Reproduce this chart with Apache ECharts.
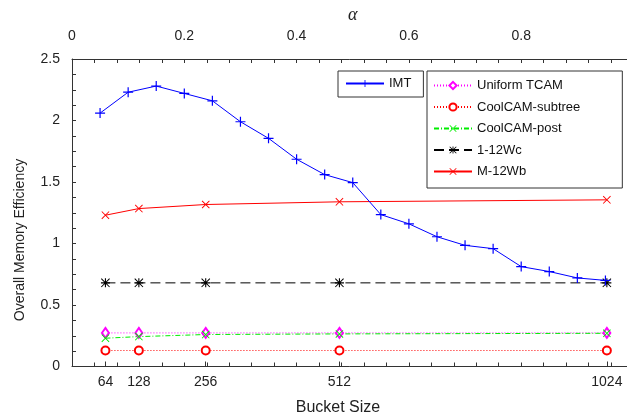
<!DOCTYPE html>
<html>
<head>
<meta charset="utf-8">
<script src="https://cdn.jsdelivr.net/npm/echarts@6/dist/echarts.min.js"></script>
<style>
html,body{margin:0;padding:0;background:#fff;}
#chart{width:627px;height:417px;}
</style>
</head>
<body>
<div id="chart"></div>
<script>
// ---- data ----
const bucketSizes = [64, 128, 256, 512, 1024];
const bucketTickLabels = [64, 128, 256, 512, 1024];
const alphaValues = [0.05, 0.10, 0.15, 0.20, 0.25, 0.30, 0.35, 0.40, 0.45, 0.50,
                     0.55, 0.60, 0.65, 0.70, 0.75, 0.80, 0.85, 0.90, 0.95];
const imtValues = [2.06, 2.23, 2.28, 2.22, 2.16, 1.99, 1.855, 1.685, 1.56, 1.495,
                   1.235, 1.16, 1.055, 0.985, 0.958, 0.812, 0.772, 0.72, 0.70];
const uniformTcam = [0.273, 0.273, 0.273, 0.273, 0.273];
const coolcamSubtree = [0.13, 0.13, 0.13, 0.13, 0.13];
const coolcamPost = [0.23, 0.243, 0.26, 0.265, 0.27];
const wc112 = [0.68, 0.68, 0.68, 0.68, 0.68];
const wbM12 = [1.23, 1.284, 1.317, 1.339, 1.355];
const seriesNames = ['IMT', 'Uniform TCAM', 'CoolCAM-subtree', 'CoolCAM-post', '1-12Wc', 'M-12Wb'];

const FONT = 'Liberation Sans, Arial, Helvetica, sans-serif';
const PLUS = 'path://M4.4,0H5.6V10H4.4Z M0,4.4H10V5.6H0Z';
const CROSS = 'path://M0.8,0L10,9.2L9.2,10L0,0.8Z M9.2,0L10,0.8L0.8,10L0,9.2Z';
const STAR = 'path://M4.4,0H5.6V10H4.4Z M0,4.4H10V5.6H0Z M0.8,0L10,9.2L9.2,10L0,0.8Z M9.2,0L10,0.8L0.8,10L0,9.2Z';

function pairs(xs, ys) { return xs.map((x, i) => [x, ys[i]]); }

const chart = echarts.init(document.getElementById('chart'), null, {renderer: 'canvas'});
const axisColor = '#333';
chart.setOption({
  animation: false,
  backgroundColor: '#fff',
  textStyle: {fontFamily: FONT},
  grid: {left: 72, top: 59, width: 561.5, height: 307.5, containLabel: false, outerBoundsMode: 'none'},
  xAxis: [
    { // bucket size (bottom)
      type: 'value', position: 'bottom', min: 0, max: 1075,
      axisLine: {show: true, onZero: false, lineStyle: {color: axisColor, width: 1}},
      axisTick: {show: true, inside: true, length: 5, customValues: bucketTickLabels, lineStyle: {color: axisColor}},
      axisLabel: {show: true, customValues: bucketTickLabels, fontSize: 14, color: '#222', margin: 9, fontFamily: FONT,
                  formatter: v => String(v)},
      splitLine: {show: false}
    },
    { // alpha (top)
      type: 'value', position: 'top', min: 0, max: 1, interval: 0.2,
      name: 'α', nameLocation: 'middle', nameGap: 31,
      nameTextStyle: {fontFamily: 'Liberation Serif, DejaVu Serif, serif', fontStyle: 'italic', fontSize: 18, color: '#222'},
      axisLine: {show: true, onZero: false, lineStyle: {color: axisColor, width: 1}},
      axisTick: {show: true, inside: true, length: 4, lineStyle: {color: axisColor}},
      minorTick: {show: true, splitNumber: 5, length: 4, lineStyle: {color: axisColor}},
      axisLabel: {show: true, fontSize: 14, color: '#222', margin: 16, fontFamily: FONT,
                  formatter: v => (Math.round(v * 10) / 10).toString()},
      splitLine: {show: false}, minorSplitLine: {show: false}
    },
    { // mirrored alpha ticks on the bottom edge
      type: 'value', position: 'bottom', min: 0, max: 1, interval: 0.04,
      axisLine: {show: false},
      axisTick: {show: true, inside: true, length: 4, lineStyle: {color: axisColor}},
      axisLabel: {show: false},
      splitLine: {show: false}
    }
  ],
  yAxis: {
    type: 'value', min: 0, max: 2.5, interval: 0.5,
    axisLine: {show: true, onZero: false, lineStyle: {color: axisColor, width: 1}},
    axisTick: {show: true, inside: true, length: 4, lineStyle: {color: axisColor}},
    minorTick: {show: true, splitNumber: 4, length: 4, lineStyle: {color: axisColor}},
    axisLabel: {fontSize: 14, color: '#222', margin: 12, padding: [0, 0, 8, 0], fontFamily: FONT},
    splitLine: {show: false}, minorSplitLine: {show: false}
  },
  legend: [
    {
      data: [seriesNames[0]], orient: 'vertical', left: 338, top: 71,
      itemWidth: 38, itemHeight: 9, itemGap: 0, padding: [6, 12, 7, 7],
      borderColor: '#333', borderWidth: 1, backgroundColor: '#fff',
      selectedMode: false,
      textStyle: {fontSize: 13, color: '#111', fontFamily: FONT}
    },
    {
      data: seriesNames.slice(1), orient: 'vertical', left: 427, top: 71,
      itemWidth: 38, itemHeight: 9, itemGap: 8.5, padding: [8, 42, 10, 6],
      borderColor: '#333', borderWidth: 1, backgroundColor: '#fff',
      selectedMode: false,
      textStyle: {fontSize: 13, color: '#111', fontFamily: FONT}
    }
  ],
  graphic: [
    {type: 'text', x: 20, y: 240, rotation: Math.PI / 2,
     style: {text: 'Overall Memory Efficiency', font: '14px ' + FONT, fill: '#222', align: 'center', verticalAlign: 'middle'}},
    {type: 'text', x: 338, y: 408,
     style: {text: 'Bucket Size', font: '16px ' + FONT, fill: '#222', align: 'center', verticalAlign: 'middle'}}
  ],
  series: [
    {name: seriesNames[1], type: 'line', xAxisIndex: 0, data: pairs(bucketSizes, uniformTcam),
     symbol: 'emptyDiamond', symbolSize: [7, 10],
     lineStyle: {color: '#ff00ff', width: 1, type: [1, 2]}, itemStyle: {color: '#ff00ff'}},
    {name: seriesNames[2], type: 'line', xAxisIndex: 0, data: pairs(bucketSizes, coolcamSubtree),
     symbol: 'emptyCircle', symbolSize: 8,
     lineStyle: {color: '#ff0000', width: 1, type: [1, 2]}, itemStyle: {color: '#ff0000'}},
    {name: seriesNames[3], type: 'line', xAxisIndex: 0, data: pairs(bucketSizes, coolcamPost),
     symbol: CROSS, symbolSize: 8,
     lineStyle: {color: '#00ee00', width: 1, type: [5, 2, 1, 2]}, itemStyle: {color: '#00ee00'}},
    {name: seriesNames[4], type: 'line', xAxisIndex: 0, data: pairs(bucketSizes, wc112),
     symbol: STAR, symbolSize: 9,
     lineStyle: {color: '#000', width: 1, type: [10, 5]}, itemStyle: {color: '#000'}},
    {name: seriesNames[5], type: 'line', xAxisIndex: 0, data: pairs(bucketSizes, wbM12),
     symbol: CROSS, symbolSize: 8,
     lineStyle: {color: '#ff0000', width: 1}, itemStyle: {color: '#ff0000'}},
    {name: seriesNames[0], type: 'line', xAxisIndex: 1, data: pairs(alphaValues, imtValues),
     symbol: PLUS, symbolSize: 10,
     lineStyle: {color: '#0000ff', width: 1}, itemStyle: {color: '#0000ff'}}
  ]
});
</script>
</body>
</html>
